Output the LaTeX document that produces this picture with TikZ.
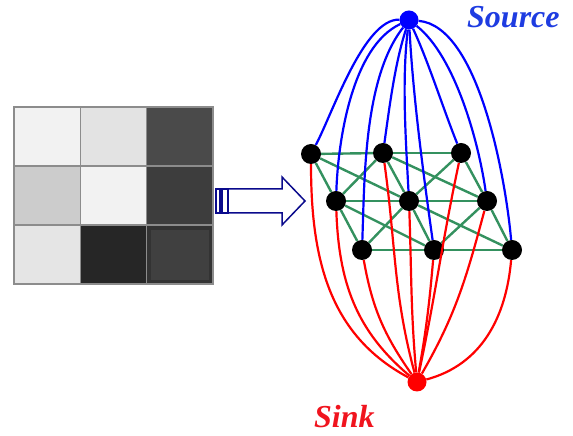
\documentclass[tikz,border=0pt]{standalone}
\usepackage{fontspec}
\setmainfont{Liberation Serif}
\usepackage{tikz}
\definecolor{latgreen}{RGB}{52,145,95}
\definecolor{arrowblue}{RGB}{10,10,140}
\definecolor{srctext}{RGB}{30,60,225}
\definecolor{snktext}{RGB}{240,20,30}
\tikzset{
vertex/.style = { circle, fill = black, minimum size = 20pt, inner sep = 0pt },
terminal/.style = { circle, minimum size = 19pt, inner sep = 0pt },
pixel/.style = { rectangle, draw = black!45, line width = 1.2pt, minimum width = 66.33pt, minimum height = 59pt, inner sep = 0pt },
hollow arrow/.style = { draw = arrowblue, fill = white, line width = 1.5pt, line join = miter },
big label/.style = { font = \fontsize{32}{32}\selectfont\bfseries\itshape, inner sep = 0pt, anchor = base west },
}

\begin{document}
\begin{tikzpicture}[x=1pt, y=1pt]
      \useasboundingbox (0,0) rectangle (573,436);
      % image pixels
      \node[pixel, fill = black!5] (px11) at (47.2,299.5) {};
      \node[pixel, fill = black!11] (px12) at (113.5,299.5) {};
      \node[pixel, fill = black!71] (px13) at (179.8,299.5) {};
      \node[pixel, fill = black!20] (px21) at (47.2,240.5) {};
      \node[pixel, fill = black!5] (px22) at (113.5,240.5) {};
      \node[pixel, fill = black!76] (px23) at (179.8,240.5) {};
      \node[pixel, fill = black!10] (px31) at (47.2,181.5) {};
      \node[pixel, fill = black!85] (px32) at (113.5,181.5) {};
      \node[pixel, fill = black!80] (px33) at (179.8,181.5) {};
      \node[rectangle, fill = black!75, minimum width = 58pt, minimum height = 50pt, inner sep = 0pt] (px33in) at (179.8,181) {};
      % arrow
      \draw[hollow arrow] (228,223) -- (282,223) -- (282,211) -- (305,235) -- (282,259) -- (282,247) -- (228,247) -- cycle;
      \draw[hollow arrow] (216,223) rectangle (220,247);
      \draw[hollow arrow] (222,223) rectangle (228,247);
      % graph
      \node[vertex] (t1) at (311,282) {};
      \node[vertex] (t2) at (383,283) {};
      \node[vertex] (t3) at (461,283) {};
      \node[vertex] (m1) at (336,235) {};
      \node[vertex] (m2) at (409,235) {};
      \node[vertex] (m3) at (487,235) {};
      \node[vertex] (b1) at (362,186) {};
      \node[vertex] (b2) at (434,186) {};
      \node[vertex] (b3) at (512,186) {};
      \node[terminal, fill = blue] (src) at (409,416) {};
      \node[terminal, fill = red] (snk) at (417,54) {};
      \node[big label, text = srctext] (srclabel) at (467,408) {Source};
      \node[big label, text = snktext] (snklabel) at (314,8) {Sink};
      \begin{scope}[every edge/.style={draw=latgreen, line width=2.4pt}]
        \path [-] (t1) edge (t2) (t2) edge (t3);
        \path [-] (m1) edge (m2) (m2) edge (m3);
        \path [-] (b1) edge (b2) (b2) edge (b3);
        \path [-] (t1) edge (m1) (t1) edge (m2);
        \path [-] (t2) edge (m1) (t2) edge (m2) (t2) edge (m3);
        \path [-] (t3) edge (m2) (t3) edge (m3);
        \path [-] (m1) edge (b1) (m1) edge (b2);
        \path [-] (m2) edge (b1) (m2) edge (b2) (m2) edge (b3);
        \path [-] (m3) edge (b2) (m3) edge (b3);
      \end{scope}
      \begin{scope}[every edge/.style={draw=blue, line width=2.2pt}]
        \path [-] (src) edge [out=178, in=62, looseness=0.6] (t1);
        \path [-] (src) edge [out=205, in=88, looseness=0.75] (m1);
        \path [-] (src) edge [out=232, in=88, looseness=0.75] (b1);
        \path [-] (src) edge [out=252, in=82, looseness=0.8] (t2);
        \path [-] (src) edge [out=263, in=93, looseness=0.8] (m2);
        \path [-] (src) edge [out=273, in=98, looseness=0.8] (b2);
        \path [-] (src) edge [out=295, in=112, looseness=0.75] (t3);
        \path [-] (src) edge [out=322, in=98, looseness=0.7] (m3);
        \path [-] (src) edge [out=355, in=95, looseness=0.65] (b3);
      \end{scope}
      \begin{scope}[every edge/.style={draw=red, line width=2.2pt}]
        \path [-] (t1) edge [out=270, in=152] (snk);
        \path [-] (m1) edge [out=272, in=140] (snk);
        \path [-] (b1) edge [out=280, in=125] (snk);
        \path [-] (t2) edge [out=278, in=105] (snk);
        \path [-] (m2) edge [out=272, in=95] (snk);
        \path [-] (b2) edge [out=265, in=80] (snk);
        \path [-] (t3) edge [out=258, in=78] (snk);
        \path [-] (m3) edge [out=255, in=60] (snk);
        \path [-] (b3) edge [out=265, in=15] (snk);
      \end{scope}
    \end{tikzpicture}
\end{document}
